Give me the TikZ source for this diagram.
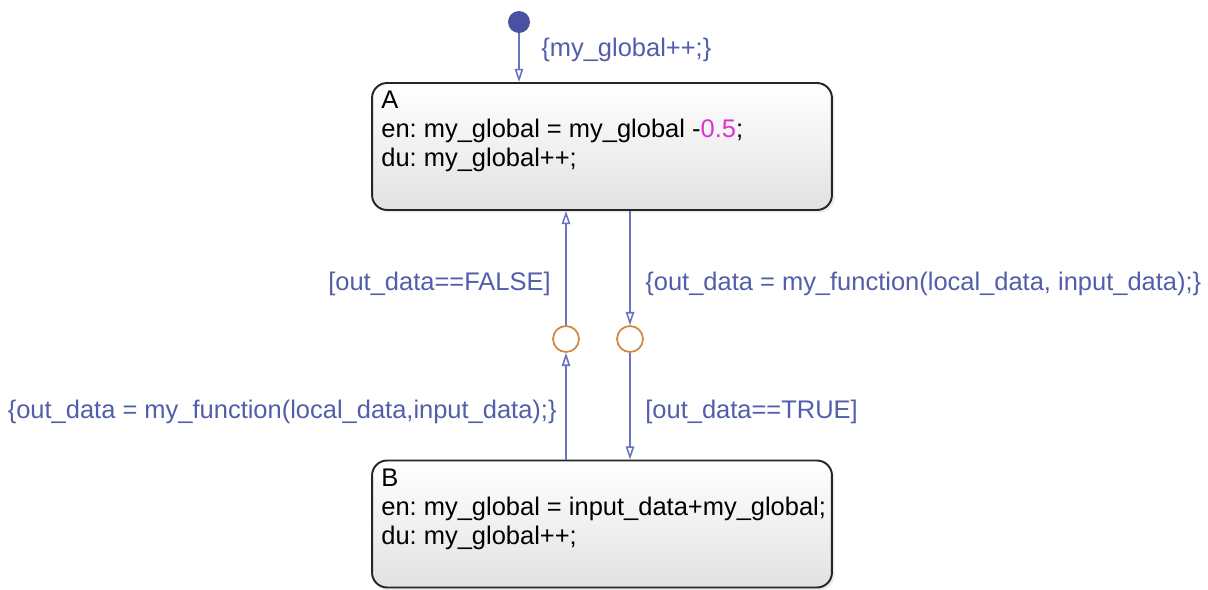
\documentclass[tikz,border=0pt]{standalone}
\usepackage{fontspec}
\setmainfont{Liberation Sans}
\usetikzlibrary{arrows.meta,shadows}
\frenchspacing

\definecolor{lblblue}{RGB}{82,94,170}
\definecolor{lineblue}{RGB}{104,116,190}
\definecolor{dotblue}{RGB}{72,82,160}
\definecolor{junctorange}{RGB}{210,135,60}
\definecolor{numpink}{RGB}{220,50,210}
\definecolor{statefill}{RGB}{226,226,226}

\begin{document}
\begin{tikzpicture}[x=0.02cm,y=-0.02cm,
  >={Triangle[open,width=4.8pt,length=7.5pt]},
  state/.style={draw=black!85,line width=1.1pt,rounded corners=0.3cm,
    minimum width=9.2cm,minimum height=2.54cm,inner sep=0pt,
    top color=white,bottom color=statefill,
    drop shadow={shadow xshift=1.5pt,shadow yshift=-1.5pt,opacity=0.15}},
  statetext/.style={anchor=north west,align=left,inner sep=0pt,
    font=\fontsize{14.5}{16.5}\selectfont},
  junct/.style={circle,draw=junctorange,line width=1pt,fill=white,
    minimum size=0.52cm,inner sep=0pt},
  initdot/.style={circle,fill=dotblue,minimum size=0.44cm,inner sep=0pt},
  trans/.style={->,draw=lineblue,line width=0.9pt},
  lbl/.style={text=lblblue,inner sep=0pt,font=\fontsize{14.5}{16.5}\selectfont}]

\useasboundingbox (0,0) rectangle (1208,589);

% States
\node[state] (A) at (602,146.5) {};
\node[statetext] (Atext) at (381,91) {A\\en: my\_global = my\_global -\textcolor{numpink}{0.5};\\du: my\_global++;};

\node[state] (B) at (602,524) {};
\node[statetext] (Btext) at (381,469) {B\\en: my\_global = input\_data+my\_global;\\du: my\_global++;};

% Default transition
\node[initdot] (init) at (519,22) {};
\draw[trans] (init) -- (init |- A.north);
\node[lbl,anchor=west] (initlbl) at (541,50) {\{my\_global++;\}};

% Junctions
\node[junct] (jl) at (566,339) {};
\node[junct] (jr) at (630,339) {};

% B -> A via left junction
\draw[trans] (B.north -| jl) -- (jl);
\draw[trans] (jl) -- (jl |- A.south);
\node[lbl,anchor=east] (fnBlbl) at (557,412) {\{out\_data = my\_function(local\_data,input\_data);\}};
\node[lbl,anchor=east] (falselbl) at (551,284) {[out\_data==FALSE]};

% A -> B via right junction
\draw[trans] (jr |- A.south) -- (jr);
\draw[trans] (jr) -- (jr |- B.north);
\node[lbl,anchor=west] (fnAlbl) at (645,284) {\{out\_data = my\_function(local\_data, input\_data);\}};
\node[lbl,anchor=west] (truelbl) at (645,412) {[out\_data==TRUE]};

\end{tikzpicture}
\end{document}
